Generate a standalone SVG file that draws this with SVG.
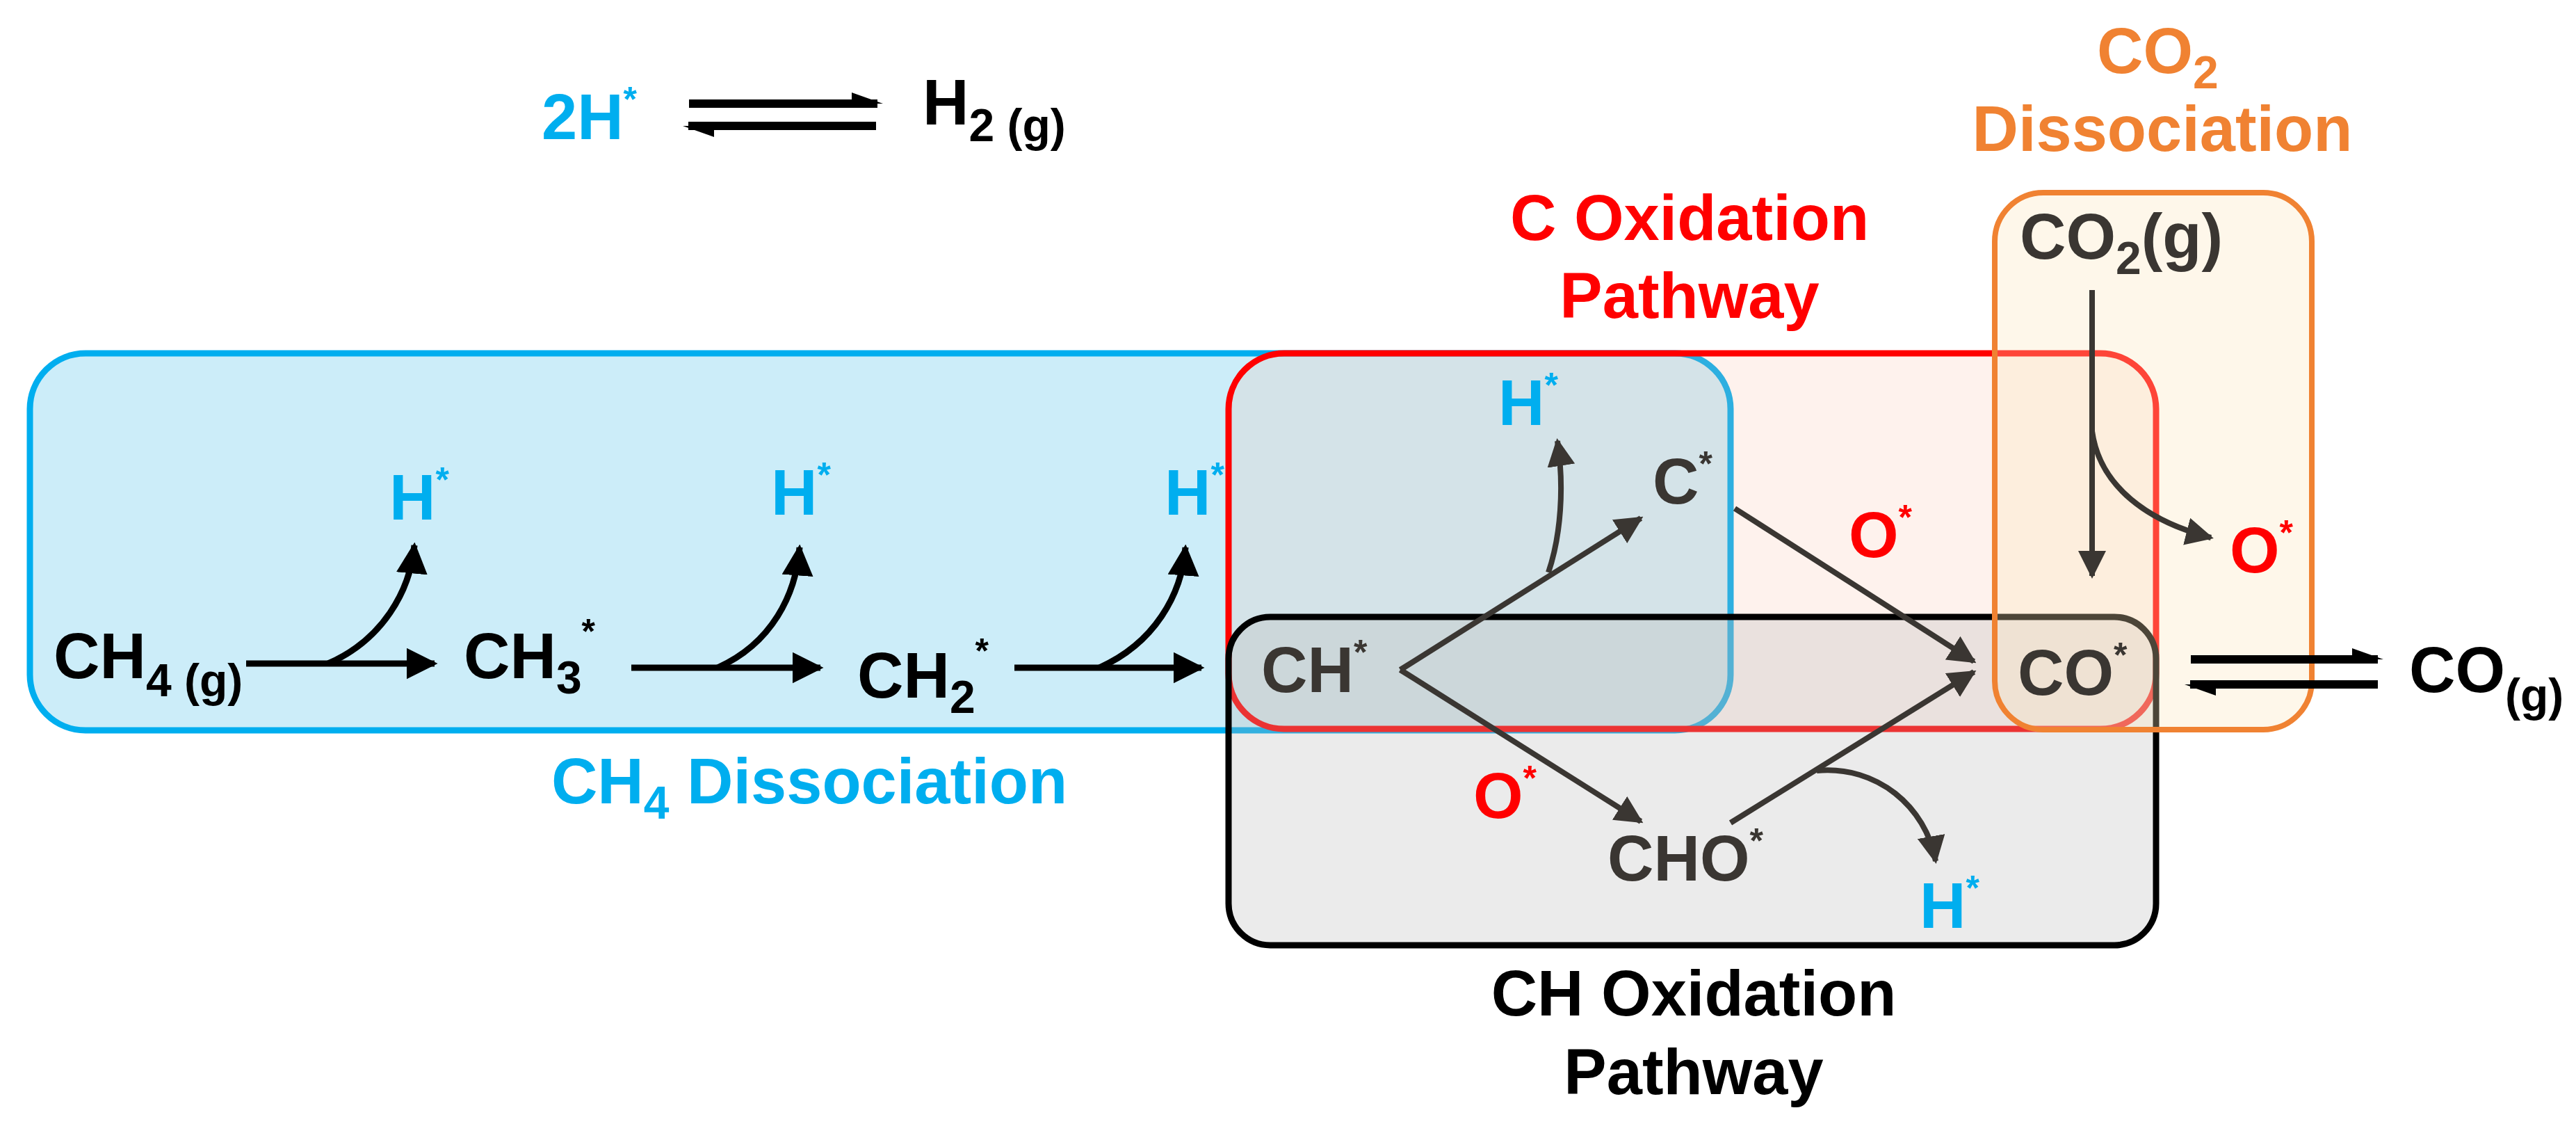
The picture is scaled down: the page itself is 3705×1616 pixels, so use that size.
<svg xmlns="http://www.w3.org/2000/svg" width="3705" height="1616" viewBox="0 0 3705 1616">
<style>
text{font-family:"Liberation Sans Narrow","Liberation Sans",Arial,sans-serif;font-weight:bold;font-size:92px}
.k{fill:#000}.b{fill:#00aeef}.r{fill:#ff0000}.o{fill:#f08232}.g{fill:#3a3632}
.sub{font-size:66px}.sup{font-size:50px}
.ar{stroke:#000;stroke-width:9;fill:none}
.ag{stroke:#3a3632;stroke-width:8;fill:none}
</style>
<defs>
<marker id="hk" viewBox="0 0 10 10" refX="9" refY="5" markerWidth="5" markerHeight="5" orient="auto" markerUnits="strokeWidth"><path d="M0,0L10,5L0,10z" fill="#000"/></marker>
<marker id="hg" viewBox="0 0 10 10" refX="9" refY="5" markerWidth="5" markerHeight="5" orient="auto" markerUnits="strokeWidth"><path d="M0,0L10,5L0,10z" fill="#3a3632"/></marker>
</defs>
<rect width="3705" height="1616" fill="#fff"/>
<g id="boxes">
<rect id="box-ch4" x="43" y="508" width="2446" height="542" rx="80" fill="#ccedf9" stroke="#00aeef" stroke-width="9"/>
<rect id="box-c" x="1767" y="508" width="1334" height="540" rx="80" fill="#f7b79a" fill-opacity="0.18" stroke="#ff0000" stroke-width="9"/>
<rect id="box-ch" x="1767" y="887" width="1334" height="472" rx="60" fill="#b8b8b8" fill-opacity="0.28" stroke="#000" stroke-width="9"/>
<rect id="box-co2" x="2869" y="277" width="456" height="772" rx="70" fill="#fde3b8" fill-opacity="0.3" stroke="#f08232" stroke-width="8"/>
</g>
<g id="labels">
<text x="1164" y="1155" class="b" text-anchor="middle">CH<tspan class="sub" dy="22">4</tspan><tspan dy="-22"> Dissociation</tspan></text>
<text x="2430" y="345" class="r" text-anchor="middle">C Oxidation</text>
<text x="2430" y="457" class="r" text-anchor="middle">Pathway</text>
<text x="3016" y="105" class="o">CO<tspan class="sub" dy="22">2</tspan></text>
<text x="3110" y="217" class="o" text-anchor="middle">Dissociation</text>
<text x="2436" y="1460" class="k" text-anchor="middle">CH  Oxidation</text>
<text x="2436" y="1573" class="k" text-anchor="middle">Pathway</text>
</g>
<g id="n-2h"><text x="779" y="200" class="b">2H<tspan class="sup" dy="-40">*</tspan></text></g>
<g id="n-h2"><text x="1327" y="179" class="k">H<tspan class="sub" dy="24">2 (g)</tspan></text></g>
<g id="n-ch4"><text x="77" y="975" class="k">CH<tspan class="sub" dy="26">4 (g)</tspan></text></g>
<g id="n-ch3"><text x="667" y="975" class="k">CH<tspan class="sub" dy="22">3</tspan><tspan class="sup" dy="-72">*</tspan></text></g>
<g id="n-ch2"><text x="1233" y="1003" class="k">CH<tspan class="sub" dy="22">2</tspan><tspan class="sup" dy="-72">*</tspan></text></g>
<g id="n-h1"><text x="560" y="747" class="b">H<tspan class="sup" dy="-40">*</tspan></text></g>
<g id="n-h2b"><text x="1109" y="740" class="b">H<tspan class="sup" dy="-40">*</tspan></text></g>
<g id="n-h3"><text x="1675" y="740" class="b">H<tspan class="sup" dy="-40">*</tspan></text></g>
<g id="n-ch"><text x="1814" y="995" class="g">CH<tspan class="sup" dy="-40">*</tspan></text></g>
<g id="n-h4"><text x="2155" y="611" class="b">H<tspan class="sup" dy="-40">*</tspan></text></g>
<g id="n-c"><text x="2377" y="724" class="g">C<tspan class="sup" dy="-40">*</tspan></text></g>
<g id="n-o1"><text x="2659" y="801" class="r">O<tspan class="sup" dy="-40">*</tspan></text></g>
<g id="n-o2"><text x="2119" y="1176" class="r">O<tspan class="sup" dy="-40">*</tspan></text></g>
<g id="n-cho"><text x="2312" y="1266" class="g">CHO<tspan class="sup" dy="-40">*</tspan></text></g>
<g id="n-h5"><text x="2761" y="1334" class="b">H<tspan class="sup" dy="-40">*</tspan></text></g>
<g id="n-co"><text x="2902" y="999" class="g">CO<tspan class="sup" dy="-40">*</tspan></text></g>
<g id="n-co2g"><text x="2905" y="372" class="g">CO<tspan class="sub" dy="22">2</tspan><tspan dy="-22">(g)</tspan></text></g>
<g id="n-o3"><text x="3207" y="823" class="r">O<tspan class="sup" dy="-40">*</tspan></text></g>
<g id="n-cog"><text x="3465" y="995" class="k">CO<tspan class="sub" dy="27">(g)</tspan></text></g>
<g id="connectors">
<path d="M991,149H1262" stroke="#000" stroke-width="12"/><path d="M1270,149L1225,133V149z" fill="#000"/>
<path d="M1260,181H990" stroke="#000" stroke-width="12"/><path d="M982,181L1027,197V181z" fill="#000"/>
<path d="M3151,948H3420" stroke="#000" stroke-width="12"/><path d="M3428,948L3383,932V948z" fill="#000"/>
<path d="M3420,984H3150" stroke="#000" stroke-width="12"/><path d="M3142,984L3187,1000V984z" fill="#000"/>
<path class="ar" d="M354,954H625" marker-end="url(#hk)"/>
<path class="ar" d="M472,954C550,920 590,850 596,784" marker-end="url(#hk)"/>
<path class="ar" d="M908,960H1180" marker-end="url(#hk)"/>
<path class="ar" d="M1032,960C1110,925 1145,855 1150,787" marker-end="url(#hk)"/>
<path class="ar" d="M1459,960H1728" marker-end="url(#hk)"/>
<path class="ar" d="M1581,960C1660,925 1700,855 1705,787" marker-end="url(#hk)"/>
<path class="ag" d="M2014,963L2360,745" marker-end="url(#hg)"/>
<path class="ag" d="M2227,823C2245,770 2250,700 2240,634" marker-end="url(#hg)"/>
<path class="ag" d="M2014,963L2360,1181" marker-end="url(#hg)"/>
<path class="ag" d="M2495,731L2839,951" marker-end="url(#hg)"/>
<path class="ag" d="M2489,1183L2839,966" marker-end="url(#hg)"/>
<path class="ag" d="M2613,1108C2700,1100 2770,1160 2784,1238" marker-end="url(#hg)"/>
<path class="ag" d="M3009,417V828" stroke-width="6" marker-end="url(#hg)"/>
<path class="ag" d="M3009,620C3020,700 3090,750 3180,773" stroke-width="6" marker-end="url(#hg)"/>
</g>
</svg>
